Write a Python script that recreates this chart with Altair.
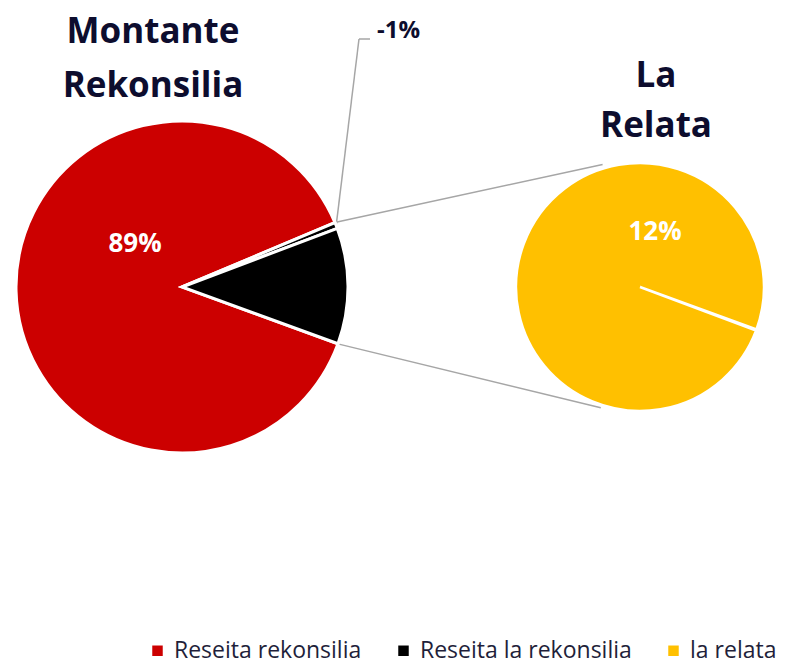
import math
import altair as alt
import pandas as pd

# ---------------- data ----------------
categories = ["Reseita rekonsilia", "Reseita la rekonsilia", "la relata"]
colors = ["#CC0000", "#000000", "#FFC000"]

main_cats = ["Reseita rekonsilia", "Reseita la rekonsilia", "Reseita la rekonsilia"]
main_values = [88.1, 0.6, 11.3]
main_labels = ["89%", "-1%", ""]

sec_cats = ["la relata", "la relata"]
sec_values = [0.15, 99.85]
sec_labels = ["", "12%"]

title_main = ["Montante", "Rekonsilia"]
title_sec = ["La", "Relata"]

# ---------------- layout ----------------
W, H = 769, 652
C1 = (174, 279); R1 = 166
C2 = (632, 279); R2 = 123
START = 110.0  # degrees, clockwise from 12 o'clock
NAVY = "#0D0D2E"
GREY = "#A6A6A6"
FONT = "Open Sans"


def pt(c, r, deg):
    a = math.radians(deg)
    return c[0] + r * math.sin(a), c[1] - r * math.cos(a)


# slice boundary angles of the main pie
tot = sum(main_values)
bounds = [START]
for v in main_values:
    bounds.append(bounds[-1] + v / tot * 360.0)
sliver_start = bounds[1] % 360
sliver_mid = ((bounds[1] + bounds[2]) / 2) % 360
black_end = bounds[3] % 360

color_scale = alt.Scale(domain=categories, range=colors)
legend = alt.Legend(
    orient="none", legendX=138, legendY=631, direction="horizontal", title=None,
    symbolType="square", symbolSize=110, symbolStrokeWidth=0,
    labelFont=FONT, labelFontSize=23, labelColor="#1F1F3A", labelLimit=400,
    columnPadding=30, labelOffset=5, padding=0,
)

df1 = pd.DataFrame({"cat": main_cats, "val": main_values, "ord": list(range(len(main_values)))})
arc1 = alt.Chart(df1).mark_arc(outerRadius=R1, stroke="white", strokeWidth=3).encode(
    theta=alt.Theta("val:Q", stack=True,
                    scale=alt.Scale(domain=[0, tot],
                                    range=[math.radians(START), math.radians(START) + 2 * math.pi])),
    color=alt.Color("cat:N", scale=color_scale, legend=legend),
    order=alt.Order("ord:Q"),
    x=alt.value(C1[0]), y=alt.value(C1[1]),
)

tot2 = sum(sec_values)
df2 = pd.DataFrame({"cat": sec_cats, "val": sec_values, "ord": list(range(len(sec_values)))})
arc2 = alt.Chart(df2).mark_arc(outerRadius=R2 + 1, stroke="white", strokeWidth=2.5).encode(
    theta=alt.Theta("val:Q", stack=True,
                    scale=alt.Scale(domain=[0, tot2],
                                    range=[math.radians(START), math.radians(START) + 2 * math.pi])),
    color=alt.Color("cat:N", scale=color_scale, legend=legend),
    order=alt.Order("ord:Q"),
    x=alt.value(C2[0]), y=alt.value(C2[1]),
)

# connector lines and leader line
u0 = pt(C1, R1 + 1, sliver_start); u1 = pt(C2, R2 + 5, -17)
l0 = pt(C1, R1 + 1, black_end); l1 = pt(C2, R2 + 4, 198)
m0 = pt(C1, R1, sliver_mid)
elbow = (351, 31)
lead_end = (362, 31)
rules = pd.DataFrame({
    "x": [u0[0], l0[0], m0[0], elbow[0]],
    "y": [u0[1], l0[1], m0[1], elbow[1]],
    "x2": [u1[0], l1[0], elbow[0], lead_end[0]],
    "y2": [u1[1], l1[1], elbow[1], lead_end[1]],
})
lines = alt.Chart(rules).mark_rule(color=GREY, strokeWidth=1.5).encode(
    x=alt.X("x:Q", scale=None, axis=None), y=alt.Y("y:Q", scale=None, axis=None),
    x2="x2:Q", y2="y2:Q",
)


def txt(s, x, y, size, color, align="center", bold=True):
    return alt.Chart(pd.DataFrame({"t": [s]})).mark_text(
        font=FONT, fontSize=size, fontWeight="bold" if bold else "normal",
        color=color, align=align, baseline="alphabetic",
    ).encode(text="t:N", x=alt.value(x), y=alt.value(y))


texts = [
    txt(title_main[0], 145, 35, 35, NAVY),
    txt(title_main[1], 145, 89, 35, NAVY),
    txt(title_sec[0], 648, 79, 35, NAVY),
    txt(title_sec[1], 648, 129, 35, NAVY),
    txt(main_labels[0], 127, 244, 26, "white"),
    txt(main_labels[1], 369, 30, 24, NAVY, align="left"),
    txt(sec_labels[1], 647, 232, 26, "white"),
]

chart = alt.layer(lines, arc1, arc2, *texts).resolve_scale(theta="independent").properties(
    width=W, height=H, padding=0, autosize=alt.AutoSizeParams(type="none"),
).configure_view(stroke=None)

chart.save("out.html", embed_options={"renderer": "svg", "actions": False})
